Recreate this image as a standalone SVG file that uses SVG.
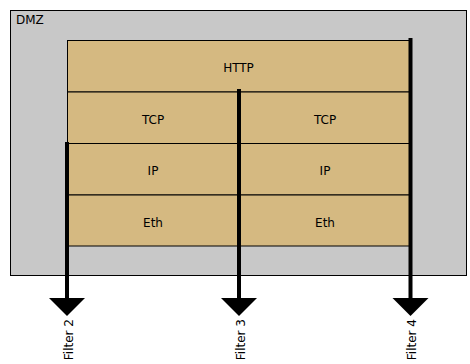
<svg xmlns="http://www.w3.org/2000/svg" width="470" height="364" viewBox="0 0 470 364">
  <style>
    text { font-family: "DejaVu Sans", "Liberation Sans", sans-serif; font-size: 12px; fill: #000; }
    .zone { fill: #c8c8c8; stroke: #000; stroke-width: 1; }
    .layer { fill: #d5b981; stroke: #000; stroke-width: 1; }
    .flow { stroke: #000; stroke-width: 4; fill: none; }
    .head { fill: #000; }
  </style>
  <rect width="470" height="364" fill="#fff"/>

  <g id="dmz">
    <rect class="zone" x="10.5" y="10.5" width="456" height="265"/>
    <text x="16" y="24">DMZ</text>
  </g>

  <g id="http">
    <rect class="layer" x="67.5" y="40.5" width="342" height="51.5"/>
    <text x="238.5" y="72" text-anchor="middle">HTTP</text>
  </g>
  <g id="tcp-left">
    <rect class="layer" x="67.5" y="92" width="171" height="51.5"/>
    <text x="153" y="124" text-anchor="middle">TCP</text>
  </g>
  <g id="tcp-right">
    <rect class="layer" x="238.5" y="92" width="171" height="51.5"/>
    <text x="325" y="124" text-anchor="middle">TCP</text>
  </g>
  <g id="ip-left">
    <rect class="layer" x="67.5" y="143.5" width="171" height="51.5"/>
    <text x="153" y="175" text-anchor="middle">IP</text>
  </g>
  <g id="ip-right">
    <rect class="layer" x="238.5" y="143.5" width="171" height="51.5"/>
    <text x="325" y="175" text-anchor="middle">IP</text>
  </g>
  <g id="eth-left">
    <rect class="layer" x="67.5" y="195" width="171" height="51"/>
    <text x="153" y="227" text-anchor="middle">Eth</text>
  </g>
  <g id="eth-right">
    <rect class="layer" x="238.5" y="195" width="171" height="51"/>
    <text x="325" y="227" text-anchor="middle">Eth</text>
  </g>

  <g id="connectors">
    <line class="flow" x1="67" y1="142" x2="67" y2="300"/>
    <polygon class="head" points="49,298 85,298 67,316"/>
    <line class="flow" x1="239" y1="89" x2="239" y2="300"/>
    <polygon class="head" points="221,298 257,298 239,316"/>
    <line class="flow" x1="410.5" y1="38" x2="410.5" y2="300"/>
    <polygon class="head" points="392.5,298 428.5,298 410.5,316"/>
  </g>

  <g id="filter-labels">
    <text transform="translate(72.5,319) rotate(-90)" text-anchor="end">Filter 2</text>
    <text transform="translate(245,319) rotate(-90)" text-anchor="end">Filter 3</text>
    <text transform="translate(416,319) rotate(-90)" text-anchor="end">Filter 4</text>
  </g>
</svg>
